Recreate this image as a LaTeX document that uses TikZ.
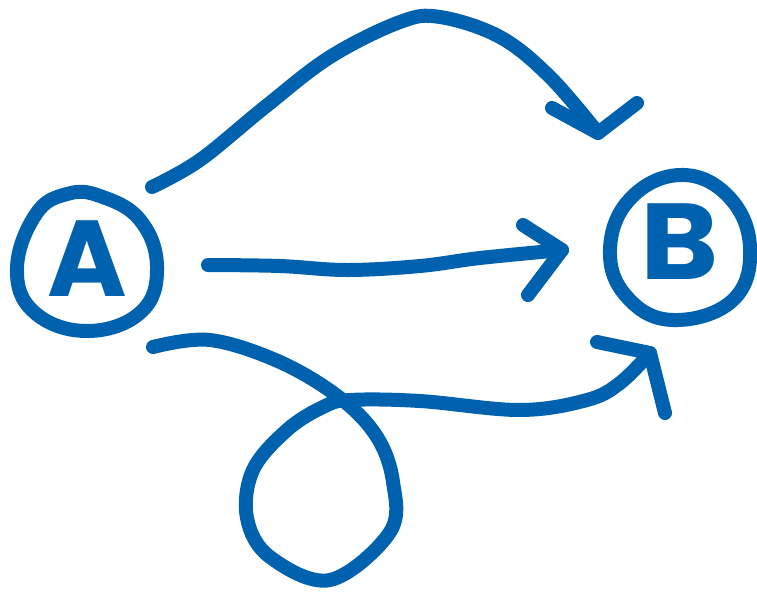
\documentclass[tikz,border=0pt]{standalone}
\usepackage{fontspec}
\newfontfamily\handfont{Poppins}
\definecolor{ink}{HTML}{0062AF}
\begin{document}
\begin{tikzpicture}[x=1pt,y=-1pt,
  stroke/.style={draw=ink,line width=14pt,line cap=round,line join=round},
  letter/.style={text=ink,font=\handfont\bfseries\fontsize{108}{108}\selectfont,inner sep=0pt}]
\useasboundingbox (0,0) rectangle (757,595);
% circle A
\draw[stroke] plot[smooth cycle,tension=0.7] coordinates
  {(17,268) (36,214) (67,194) (100,196) (140,220) (157,267) (141,312) (87,331) (34,312)};
\node[letter] (A) at (87,259) {A};
% circle B
\draw[stroke] plot[smooth cycle,tension=0.7] coordinates
  {(610,250) (630,199) (680,175) (728,196) (750,247) (733,300) (673,320) (627,297)};
\node[letter,xscale=1.1] (B) at (680,242) {B};
% top arrow
\draw[stroke] plot[smooth,tension=0.6] coordinates
  {(152,187) (200,160) (265,107) (330,57) (400,22) (440,17) (500,37) (550,77) (598,133)};
\draw[stroke] (552,108) -- (598,133) -- (637,103);
% middle arrow
\draw[stroke] plot[smooth,tension=0.6] coordinates
  {(208,265) (280,266) (347,270) (420,266) (480,258) (562,250)};
\draw[stroke] (523,225) -- (562,250) -- (528,295);
% bottom arrow with loop
\draw[stroke] plot[smooth,tension=0.6] coordinates
  {(153,347) (210,340) (280,362) (340,398) (377,437) (393,482) (390,532) (330,580)
   (270,557) (247,518) (253,470) (287,430) (323,407) (350,400) (420,401) (520,410)
   (587,400) (620,383) (650,353)};
\draw[stroke] (597,342) -- (650,353) -- (665,413);
\end{tikzpicture}
\end{document}
